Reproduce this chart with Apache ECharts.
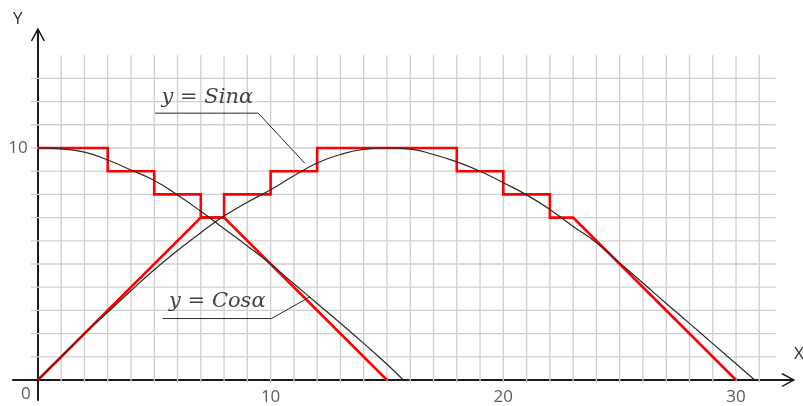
<!DOCTYPE html>
<html>
<head>
<meta charset="utf-8">
<script src="https://cdn.jsdelivr.net/npm/echarts@6/dist/echarts.min.js"></script>
<style>html,body{margin:0;padding:0;background:#fff}#c{width:803px;height:406px}</style>
</head>
<body>
<div id="c"></div>
<script>
// ---- data ----
const cosStairs = [[0,10],[3,10],[3,9],[5,9],[5,8],[7,8],[7,7],[8,7],[15,0]];
const sinStairs = [[0,0],[7,7],[8,7],[8,8],[10,8],[10,9],[12,9],[12,10],[18,10],[18,9],[20,9],[20,8],[22,8],[22,7],[23,7],[30,0]];
const cosCurve = [[0,10],[1,9.96],[2,9.82],[3,9.48],[4,9.05],[5,8.6],[6,7.97],[7,7.27],[8,6.52],[9,5.78],[10,5.0],[11,4.15],[12,3.3],[13,2.45],[14,1.58],[15,0.68],[15.7,0]];
const sinCurve = [[0,0],[1,1],[2,2],[3,2.92],[4,3.85],[5,4.75],[6,5.58],[7,6.35],[8,7.07],[9,7.66],[10,8.2],[11,8.8],[12,9.35],[13,9.72],[14,9.94],[15,10],[16,9.95],[17,9.72],[18,9.4],[19,9.0],[20,8.5],[21,7.98],[22,7.35],[23,6.62],[24,5.92],[25,5.05],[26,4.18],[27,3.3],[28,2.44],[29,1.57],[30,0.7],[30.8,0]];
const xTickLabels = [10, 20, 30];
const yTickLabels = [10];
const originLabel = '0';
const sinAnnotation = {text: 'y = Sinα', at: [7.28, 12.16], line: [[5.03,11.5],[9.47,11.5],[11.47,9.34]]};
const cosAnnotation = {text: 'y = Cosα', at: [7.71, 3.38], line: [[5.36,2.65],[10.04,2.65],[11.69,3.59]]};
const xGridValues = []; for (let i = 1; i <= 31; i++) xGridValues.push(i);
const yGridValues = []; for (let i = 1; i <= 13; i++) yGridValues.push(i);
const gridExtent = {xFrom: -0.3, xTo: 31.7, yFrom: -0.12, yTo: 14};

// ---- chart ----
const arrow = 'path://M5 0 L10 9.3 L9.2 10 L5.7 3.5 L5.7 10 L4.3 10 L4.3 3.5 L0.8 10 L0 9.3 Z';
const gridLines = [];
xGridValues.forEach(v => gridLines.push([v, gridExtent.yFrom, v, gridExtent.yTo]));
yGridValues.forEach(v => gridLines.push([gridExtent.xFrom, v, gridExtent.xTo, v]));

const chart = echarts.init(document.getElementById('c'));
const lblFont = {fontFamily: 'Open Sans', fontSize: 17, color: '#333'};
chart.setOption({
  animation: false,
  backgroundColor: '#fff',
  grid: {left: 13, right: 14.6, top: 34.5, bottom: 6},
  xAxis: {
    type: 'value', min: -1.07, max: 32.25,
    axisLine: {show: true, onZero: true, lineStyle: {color: '#1a1a1a', width: 2}, symbol: ['none', arrow], symbolSize: [14, 25]},
    axisTick: {show: false}, axisLabel: {show: false}, splitLine: {show: false}
  },
  yAxis: {
    type: 'value', min: -0.86, max: 14.89,
    axisLine: {show: true, onZero: true, lineStyle: {color: '#1a1a1a', width: 2}, symbol: ['none', arrow], symbolSize: [14, 25]},
    axisTick: {show: false}, axisLabel: {show: false}, splitLine: {show: false}
  },
  graphic: [
    {type: 'text', left: 13, top: 11, style: {text: 'Y', font: '17px "Open Sans"', fill: '#333'}},
    {type: 'text', left: 794, top: 346, style: {text: 'X', font: '17px "Open Sans"', fill: '#333'}}
  ],
  series: [
    {
      type: 'custom', z: 1, silent: true,
      data: gridLines,
      renderItem: function (params, api) {
        const a = api.coord([api.value(0), api.value(1)]);
        const b = api.coord([api.value(2), api.value(3)]);
        return {type: 'line', shape: {x1: a[0], y1: a[1], x2: b[0], y2: b[1]}, style: {stroke: '#cfcfcf', lineWidth: 1.3}};
      },
      clip: false
    },
    {type: 'line', z: 3, data: cosStairs, showSymbol: false, lineStyle: {color: '#ff0000', width: 2.6, join: 'miter'}},
    {type: 'line', z: 3, data: sinStairs, showSymbol: false, lineStyle: {color: '#ff0000', width: 2.6, join: 'miter'}},
    {type: 'line', z: 4, data: cosCurve, smooth: 0.5, showSymbol: false, lineStyle: {color: '#2a2a2a', width: 1.2}},
    {type: 'line', z: 4, data: sinCurve, smooth: 0.5, showSymbol: false, lineStyle: {color: '#2a2a2a', width: 1.2}},
    {type: 'line', z: 4, data: sinAnnotation.line, showSymbol: false, lineStyle: {color: '#2a2a2a', width: 1}},
    {type: 'line', z: 4, data: cosAnnotation.line, showSymbol: false, lineStyle: {color: '#2a2a2a', width: 1}},
    {
      type: 'scatter', z: 5, symbolSize: 0, silent: true,
      data: [
        {value: sinAnnotation.at, label: {formatter: sinAnnotation.text}},
        {value: cosAnnotation.at, label: {formatter: cosAnnotation.text}}
      ],
      label: {show: true, position: 'inside', fontFamily: 'DejaVu Serif', fontStyle: 'italic', fontSize: 21, color: '#111'}
    },
    {
      type: 'scatter', z: 5, symbolSize: 0, silent: true,
      data: xTickLabels.map(v => ({value: [v, 0], label: {formatter: String(v)}}))
        .concat(yTickLabels.map(v => ({value: [0, v], label: {formatter: String(v), offset: [-20, 0]}})))
        .concat([{value: [0, 0], label: {formatter: originLabel, offset: [-12, 14]}}]),
      label: Object.assign({show: true, position: 'inside', offset: [0, 17]}, lblFont)
    }
  ]
});
</script>
</body>
</html>
